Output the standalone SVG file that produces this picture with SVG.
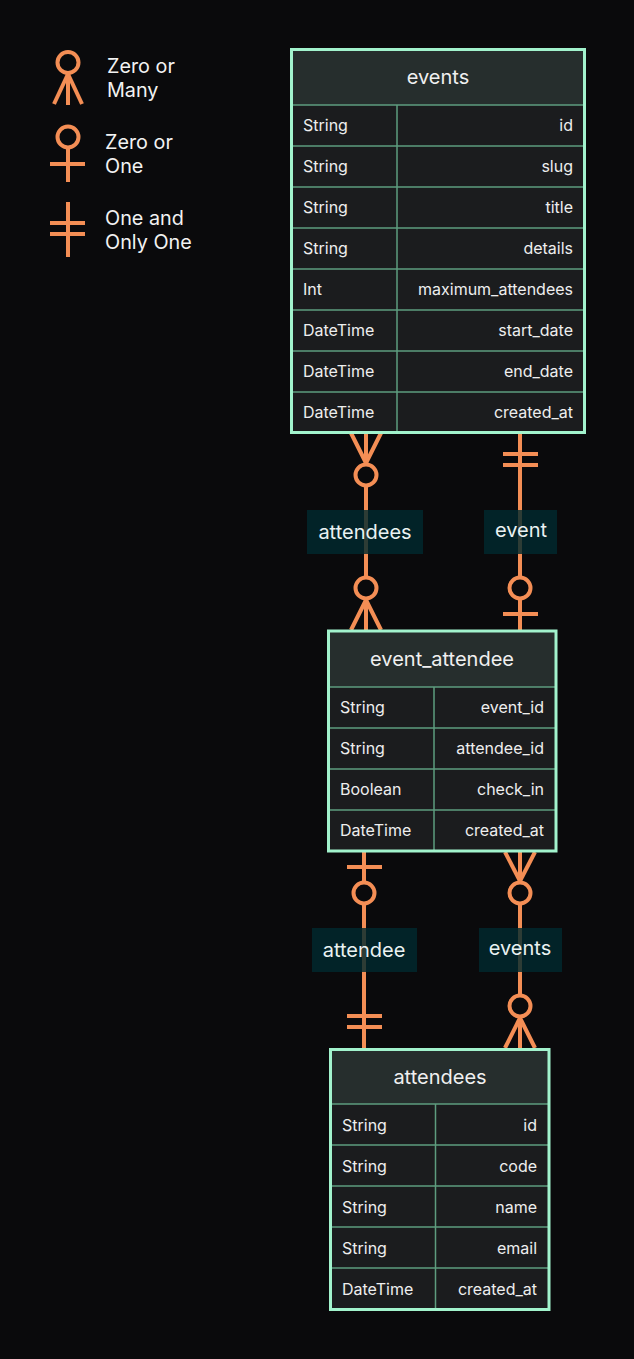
<svg xmlns="http://www.w3.org/2000/svg" width="634" height="1359" viewBox="0 0 634 1359">
<style>
.bg{fill:#0a0a0c}
.hdr{fill:#262e2d}
.row{fill:#1b1c1e}
.frame{fill:none;stroke:#a2f3cd;stroke-width:3}
.div{stroke:#5e9c7f;stroke-width:1.5}
.ttl{font-family:Inter,"Liberation Sans",sans-serif;font-size:20px;fill:#f0f0f0;text-anchor:middle}
.t{font-family:Inter,"Liberation Sans",sans-serif;font-size:16px;fill:#eeeeee}
.r{text-anchor:end}
.leg{font-family:Inter,"Liberation Sans",sans-serif;font-size:19.8px;fill:#f2f2f2}
.ln{stroke:#f48e55;stroke-width:4;fill:none}
.cf{fill:#0a0a0c}
.lbl{fill:#012a2e;fill-opacity:0.82}
.lt{font-family:Inter,"Liberation Sans",sans-serif;font-size:20px;fill:#eaf2f2;text-anchor:middle}
</style>
<rect class="bg" x="0" y="0" width="634" height="1359"/>

<g id="legend">
  <circle class="ln" cx="68" cy="62.5" r="10.5"/>
  <line class="ln" x1="68" y1="73" x2="68" y2="105"/>
  <line class="ln" x1="68" y1="74" x2="54" y2="104"/>
  <line class="ln" x1="68" y1="74" x2="82" y2="104"/>
  <text class="leg" x="107" y="73">Zero or</text>
  <text class="leg" x="107" y="97">Many</text>

  <circle class="ln" cx="68" cy="137" r="10.5"/>
  <line class="ln" x1="68" y1="147.5" x2="68" y2="182"/>
  <line class="ln" x1="50" y1="164" x2="85" y2="164"/>
  <text class="leg" x="105" y="149">Zero or</text>
  <text class="leg" x="105" y="173">One</text>

  <line class="ln" x1="68" y1="202" x2="68" y2="257"/>
  <line class="ln" x1="50" y1="223" x2="85" y2="223"/>
  <line class="ln" x1="50" y1="234" x2="85" y2="234"/>
  <text class="leg" x="105" y="225">One and</text>
  <text class="leg" x="105" y="249">Only One</text>
</g>

<g id="connectors">
  <!-- events -> event_attendee (attendees) -->
  <line class="ln" x1="366" y1="433" x2="366" y2="630"/>
  <line class="ln" x1="351" y1="433" x2="366" y2="463"/>
  <line class="ln" x1="381" y1="433" x2="366" y2="463"/>
  <circle class="ln cf" cx="366" cy="475" r="10.5"/>
  <circle class="ln cf" cx="366" cy="588" r="10.5"/>
  <line class="ln" x1="366" y1="600" x2="351" y2="630"/>
  <line class="ln" x1="366" y1="600" x2="381" y2="630"/>
  <rect class="lbl" x="307" y="510" width="116" height="44"/>
  <text class="lt" x="365" y="539">attendees</text>

  <!-- events -> event_attendee (event) -->
  <line class="ln" x1="520" y1="433" x2="520" y2="630"/>
  <line class="ln" x1="503" y1="454" x2="538" y2="454"/>
  <line class="ln" x1="503" y1="465" x2="538" y2="465"/>
  <circle class="ln cf" cx="520" cy="588" r="10.5"/>
  <line class="ln" x1="503" y1="614" x2="538" y2="614"/>
  <rect class="lbl" x="484" y="510" width="73" height="44"/>
  <text class="lt" x="521" y="537">event</text>

  <!-- event_attendee -> attendees (attendee) -->
  <line class="ln" x1="364" y1="852" x2="364" y2="1048"/>
  <line class="ln" x1="347" y1="867" x2="382" y2="867"/>
  <circle class="ln cf" cx="364" cy="893" r="10.5"/>
  <line class="ln" x1="347" y1="1016" x2="382" y2="1016"/>
  <line class="ln" x1="347" y1="1027" x2="382" y2="1027"/>
  <rect class="lbl" x="312" y="928" width="105" height="44"/>
  <text class="lt" x="364" y="957">attendee</text>

  <!-- event_attendee -> attendees (events) -->
  <line class="ln" x1="520" y1="852" x2="520" y2="1048"/>
  <line class="ln" x1="505" y1="852" x2="520" y2="881"/>
  <line class="ln" x1="535" y1="852" x2="520" y2="881"/>
  <circle class="ln cf" cx="520" cy="893" r="10.5"/>
  <circle class="ln cf" cx="520" cy="1006" r="10.5"/>
  <line class="ln" x1="520" y1="1018" x2="505" y2="1048"/>
  <line class="ln" x1="520" y1="1018" x2="535" y2="1048"/>
  <rect class="lbl" x="479" y="928" width="83" height="44"/>
  <text class="lt" x="520" y="955">events</text>
</g>

<g id="events">
  <rect class="hdr" x="291.5" y="49.5" width="293" height="55.5"/>
  <rect class="row" x="291.5" y="105" width="293" height="328"/>
  <line class="div" x1="291.5" y1="105" x2="584.5" y2="105"/>
  <line class="div" x1="291.5" y1="146" x2="584.5" y2="146"/>
  <line class="div" x1="291.5" y1="187" x2="584.5" y2="187"/>
  <line class="div" x1="291.5" y1="228" x2="584.5" y2="228"/>
  <line class="div" x1="291.5" y1="269" x2="584.5" y2="269"/>
  <line class="div" x1="291.5" y1="310" x2="584.5" y2="310"/>
  <line class="div" x1="291.5" y1="351" x2="584.5" y2="351"/>
  <line class="div" x1="291.5" y1="392" x2="584.5" y2="392"/>
  <line class="div" x1="397" y1="105" x2="397" y2="433"/>
  <rect class="frame" x="291.5" y="49.5" width="293" height="383"/>
  <text class="ttl" x="438" y="84">events</text>
  <text class="t" x="303" y="131">String</text><text class="t r" x="573" y="131">id</text>
  <text class="t" x="303" y="172">String</text><text class="t r" x="573" y="172">slug</text>
  <text class="t" x="303" y="213">String</text><text class="t r" x="573" y="213">title</text>
  <text class="t" x="303" y="254">String</text><text class="t r" x="573" y="254">details</text>
  <text class="t" x="303" y="295">Int</text><text class="t r" x="573" y="295">maximum_attendees</text>
  <text class="t" x="303" y="336">DateTime</text><text class="t r" x="573" y="336">start_date</text>
  <text class="t" x="303" y="377">DateTime</text><text class="t r" x="573" y="377">end_date</text>
  <text class="t" x="303" y="418">DateTime</text><text class="t r" x="573" y="418">created_at</text>
</g>

<g id="event_attendee">
  <rect class="hdr" x="328.5" y="631" width="227.5" height="56"/>
  <rect class="row" x="328.5" y="687" width="227.5" height="164"/>
  <line class="div" x1="328.5" y1="687" x2="556" y2="687"/>
  <line class="div" x1="328.5" y1="728" x2="556" y2="728"/>
  <line class="div" x1="328.5" y1="769" x2="556" y2="769"/>
  <line class="div" x1="328.5" y1="810" x2="556" y2="810"/>
  <line class="div" x1="434" y1="687" x2="434" y2="851"/>
  <rect class="frame" x="328.5" y="631" width="227.5" height="220"/>
  <text class="ttl" x="442" y="666">event_attendee</text>
  <text class="t" x="340" y="713">String</text><text class="t r" x="544" y="713">event_id</text>
  <text class="t" x="340" y="754">String</text><text class="t r" x="544" y="754">attendee_id</text>
  <text class="t" x="340" y="795">Boolean</text><text class="t r" x="544" y="795">check_in</text>
  <text class="t" x="340" y="836">DateTime</text><text class="t r" x="544" y="836">created_at</text>
</g>

<g id="attendees">
  <rect class="hdr" x="330.5" y="1049.5" width="218.5" height="55"/>
  <rect class="row" x="330.5" y="1104" width="218.5" height="205"/>
  <line class="div" x1="330.5" y1="1104" x2="549" y2="1104"/>
  <line class="div" x1="330.5" y1="1145" x2="549" y2="1145"/>
  <line class="div" x1="330.5" y1="1186" x2="549" y2="1186"/>
  <line class="div" x1="330.5" y1="1227" x2="549" y2="1227"/>
  <line class="div" x1="330.5" y1="1268" x2="549" y2="1268"/>
  <line class="div" x1="435.5" y1="1104" x2="435.5" y2="1309"/>
  <rect class="frame" x="330.5" y="1049.5" width="218.5" height="260"/>
  <text class="ttl" x="440" y="1084">attendees</text>
  <text class="t" x="342" y="1131">String</text><text class="t r" x="537" y="1131">id</text>
  <text class="t" x="342" y="1172">String</text><text class="t r" x="537" y="1172">code</text>
  <text class="t" x="342" y="1213">String</text><text class="t r" x="537" y="1213">name</text>
  <text class="t" x="342" y="1254">String</text><text class="t r" x="537" y="1254">email</text>
  <text class="t" x="342" y="1295">DateTime</text><text class="t r" x="537" y="1295">created_at</text>
</g>
</svg>
